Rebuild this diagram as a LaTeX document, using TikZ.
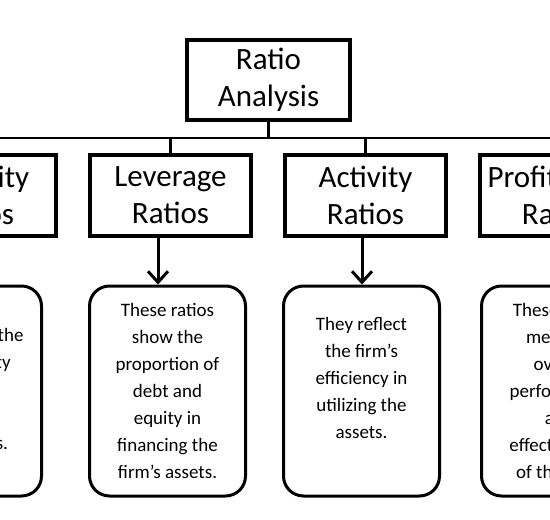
\documentclass[tikz,border=0pt]{standalone}
\usepackage{fontspec}
\setmainfont{Carlito}
\usetikzlibrary{arrows.meta}
\newcommand{\headfont}{\fontsize{31}{37}\selectfont}
\newcommand{\detfont}{\fontsize{19}{27}\selectfont}
\tikzset{
  headbox/.style={draw, line width=3.5pt, minimum width=161pt, minimum height=81pt,
    inner sep=0pt, align=center, font=\headfont},
  rootbox/.style={headbox, minimum width=163pt, minimum height=80pt},
  detailbox/.style={draw, rounded corners=20pt, line width=3pt, minimum width=156pt,
    minimum height=210pt, inner sep=0pt, align=center, font=\detfont},
  link/.style={line width=2.5pt},
  arr/.style={line width=3pt, -{Straight Barb[length=11pt,width=20pt]}}
}
\begin{document}
\begin{tikzpicture}[x=1pt,y=-1pt]
\useasboundingbox (0,0) rectangle (550,520);
\clip (0,0) rectangle (550,520);
\fill[white] (0,0) rectangle (550,520);
% top
\node[rootbox] (root) at (268.5,80) {Ratio\\Analysis};
% headers
\node[headbox] (liq) at (-24.5,195.5) {Liquidity\\Ratios};
\node[headbox] (lev) at (170.5,195.5) {Leverage\\Ratios};
\node[headbox] (act) at (365.5,195.5) {Activity\\Ratios};
\node[headbox] (pro) at (560.5,195.5) {Profitability\\Ratios};
% connectors
\coordinate (bus) at (268.5,138);
\draw[link] (root.south) -- (bus);
\draw[link] (liq.north) |- (bus) -| (pro.north);
\draw[link] (lev.north) -- (lev.north |- bus);
\draw[link] (act.north) -- (act.north |- bus);
% details
\node[detailbox] (liqd) at (-36.5,391) {It measures the\\firm’s ability\\to meet\\current\\obligations.};
\node[detailbox] (levd) at (167.5,391) {These ratios\\show the\\proportion of\\debt and\\equity in\\financing the\\firm’s assets.};
\node[detailbox] (actd) at (361.5,391) {They reflect\\the firm’s\\efficiency in\\utilizing the\\assets.\\\mbox{}};
\node[detailbox] (prod) at (559.5,391) {These ratios\\measure\\overall\\performance\\and\\effectiveness\\of the firm.};
% arrows
\coordinate (la) at (158,0);
\coordinate (aa) at (362,0);
\draw[arr] (lev.south -| la) -- (levd.north -| la);
\draw[arr] (act.south -| aa) -- (actd.north -| aa);
\end{tikzpicture}
\end{document}
